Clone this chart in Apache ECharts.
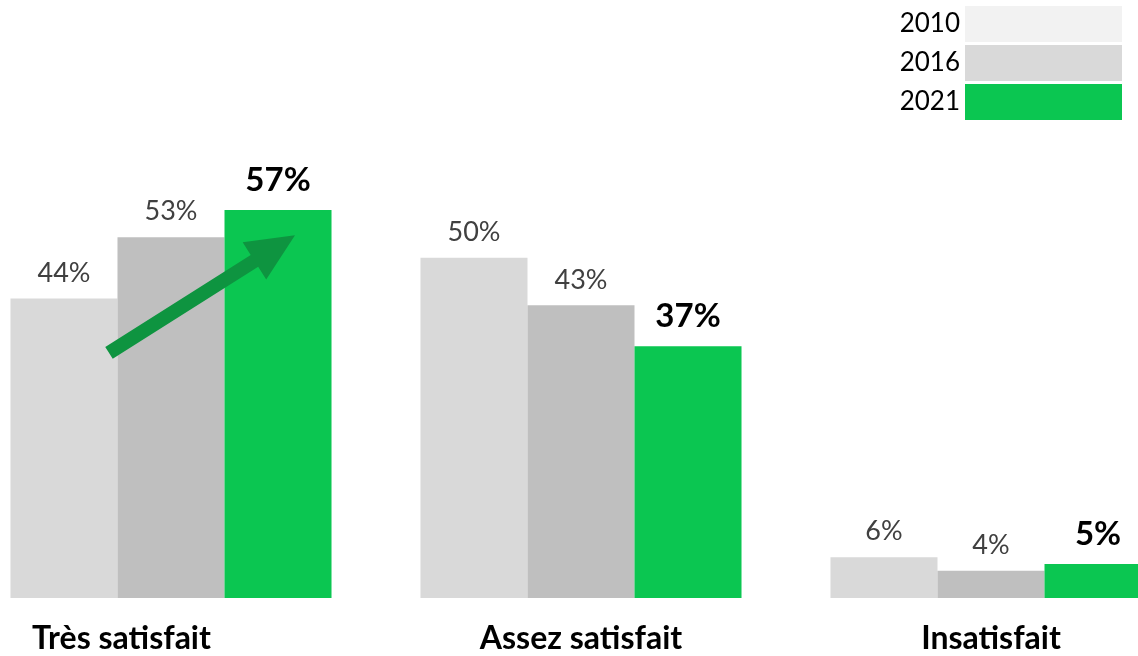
<!DOCTYPE html>
<html>
<head>
<meta charset="utf-8">
<script src="https://cdn.jsdelivr.net/npm/echarts@6/dist/echarts.min.js"></script>
<style>
  html, body { margin: 0; padding: 0; background: #fff; overflow: hidden; }
  #wrap { width: 1138px; height: 656px; overflow: hidden; position: relative; }
  /* la zone de tracé déborde du cadre à gauche et à droite */
  #chart { width: 1230px; height: 656px; position: absolute; left: -34px; top: 0; }
</style>
</head>
<body>
<div id="wrap"><div id="chart"></div></div>
<script>
// données
const categories = ["Très satisfait", "Assez satisfait", "Insatisfait"];
const years = ["2010", "2016", "2021"];
const v2010 = [44, 50, 6];
const v2016 = [53, 43, 4];
const v2021 = [57, 37, 5];

const barColors = ["#d9d9d9", "#bfbfbf", "#0bc651"];
const legendColors = ["#f2f2f2", "#d9d9d9", "#0bc651"];
const FONT = "Lato";

let chart = echarts.init(document.getElementById("chart"));

function mkSeries(name, data, i) {
  let bold = i === 2;
  return {
    name: name,
    type: "bar",
    data: data,
    barGap: "0%",
    barCategoryGap: "21.7%",
    itemStyle: { color: barColors[i] },
    label: {
      show: true,
      position: "top",
      distance: bold ? 13 : 12,
      formatter: "{c}%",
      fontFamily: FONT,
      fontSize: bold ? 33 : 27,
      fontWeight: bold ? "bold" : "normal",
      color: bold ? "#000" : "#404040",
    },
  };
}

let option = {
  animation: false,
  grid: { left: 0, right: 0, top: 189.6, bottom: 58 },
  legend: {
    orient: "vertical",
    right: 69,
    top: 1,
    align: "right",
    icon: "rect",
    itemWidth: 157,
    itemHeight: 36,
    itemGap: 3,
    selectedMode: false,
    textStyle: { fontFamily: FONT, fontSize: 26, color: "#000" },
    data: years.map((y, i) => ({ name: y, itemStyle: { color: legendColors[i] } })),
  },
  xAxis: {
    type: "category",
    data: categories,
    axisLine: { show: false },
    axisTick: { show: false },
    axisLabel: {
      margin: 25,
      fontFamily: FONT,
      fontSize: 32,
      fontWeight: "bold",
      color: "#000",
      formatter: (v, idx) => (idx === 0 ? "{first|" + v + "}" : v),
      rich: {
        first: {
          fontFamily: FONT, fontSize: 32, fontWeight: "bold", color: "#000",
          padding: [0, 99, 0, 0],
        },
      },
    },
  },
  yAxis: {
    type: "value",
    min: 0,
    max: 60,
    show: false,
    splitLine: { show: false },
  },
  series: [mkSeries(years[0], v2010, 0), mkSeries(years[1], v2016, 1), mkSeries(years[2], v2021, 2)],
};
chart.setOption(option);

// flèche de progression sur "Très satisfait"
function drawArrow() {
  let c0 = chart.convertToPixel({ gridIndex: 0 }, [0, 36]);
  let c1 = chart.convertToPixel({ gridIndex: 0 }, [0, 53.3]);
  let x0 = c0[0] - 62, y0 = c0[1];
  let x1 = c1[0] + 124, y1 = c1[1];
  let dx = x1 - x0, dy = y1 - y0;
  let len = Math.sqrt(dx * dx + dy * dy);
  let ux = dx / len, uy = dy / len;
  let nx = -uy, ny = ux;
  let shaft = 7, head = 22, headLen = 48;
  let bx = x1 - ux * headLen, by = y1 - uy * headLen;
  let pts = [
    [x0 + nx * shaft, y0 + ny * shaft],
    [bx + nx * shaft, by + ny * shaft],
    [bx + nx * head, by + ny * head],
    [x1, y1],
    [bx - nx * head, by - ny * head],
    [bx - nx * shaft, by - ny * shaft],
    [x0 - nx * shaft, y0 - ny * shaft],
  ];
  chart.setOption({
    graphic: [{ type: "polygon", z: 100, shape: { points: pts }, style: { fill: "#0e9440" } }],
  });
}
drawArrow();
</script>
</body>
</html>
